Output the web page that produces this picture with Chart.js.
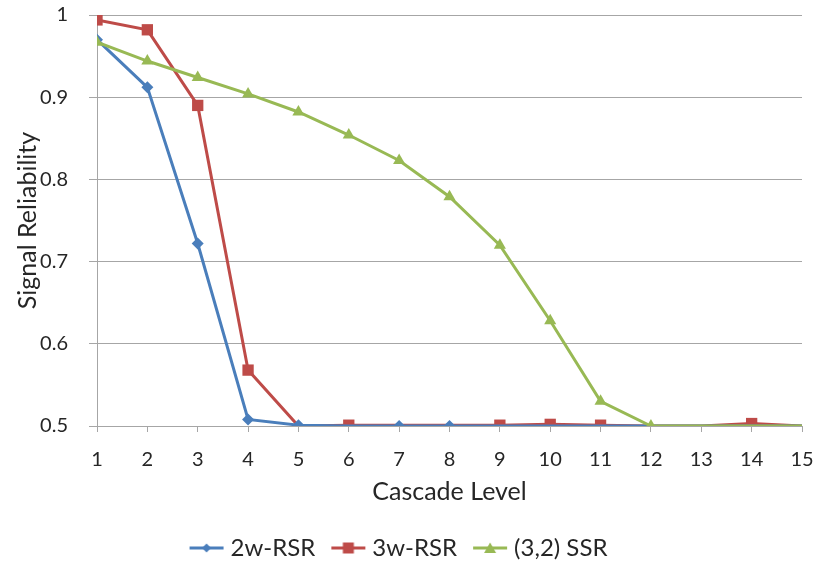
<!DOCTYPE html>
<html>
<head>
<meta charset="utf-8">
<script src="https://cdn.jsdelivr.net/npm/chart.js@4.4.1/dist/chart.umd.min.js"></script>
<style>
  html, body { margin: 0; padding: 0; background: #ffffff; }
  #wrap { width: 817px; height: 572px; position: relative; }
</style>
</head>
<body>
<div id="wrap"><canvas id="c" width="817" height="572"></canvas></div>
<script>
// ---- data ----
const cascadeLevels = [1, 2, 3, 4, 5, 6, 7, 8, 9, 10, 11, 12, 13, 14, 15];
const seriesNames = ['2w-RSR', '3w-RSR', '(3,2) SSR'];
const rsr2w = [0.970, 0.912, 0.722, 0.508, 0.501, 0.500, 0.500, 0.500, 0.500, 0.500, 0.500, 0.500, 0.500, 0.500, 0.500];
const rsr3w = [0.994, 0.982, 0.890, 0.568, 0.500, 0.501, 0.501, 0.501, 0.501, 0.502, 0.501, 0.500, 0.500, 0.503, 0.500];
const ssr32 = [0.967, 0.944, 0.924, 0.904, 0.882, 0.854, 0.823, 0.779, 0.720, 0.628, 0.530, 0.500, 0.500, 0.500, 0.500];
const yTicks = [0.5, 0.6, 0.7, 0.8, 0.9, 1];

// ---- styling ----
const BLUE = '#4a7ebb', RED = '#be4b48', GREEN = '#98b954';
const FONT = 'Lato, "Open Sans", "Liberation Sans", sans-serif';
const TEXT = '#262626';
// points where the reference shows no marker (covered / not drawn)
const noMarker = {
  0: [5, 8, 9, 10, 11, 12, 13, 14],
  1: [4, 6, 7, 11, 12, 14],
  2: [12, 13, 14]
};

function legendIcon(color, style) {
  const cv = document.createElement('canvas');
  cv.width = 36; cv.height = 14;
  const g = cv.getContext('2d');
  g.strokeStyle = color; g.lineWidth = 3;
  g.beginPath(); g.moveTo(1, 7); g.lineTo(35, 7); g.stroke();
  g.fillStyle = color;
  g.beginPath();
  if (style === 'rectRot') { g.moveTo(18, 2.5); g.lineTo(22.5, 7); g.lineTo(18, 11.5); g.lineTo(13.5, 7); }
  else if (style === 'rect') { g.rect(12.5, 1.5, 11, 11); }
  else { g.moveTo(18, 1.5); g.lineTo(24, 12); g.lineTo(12, 12); }
  g.closePath(); g.fill();
  return cv;
}

const specs = [
  { data: rsr2w, color: BLUE, style: 'rectRot', r: 6, order: 1 },
  { data: rsr3w, color: RED, style: 'rect', r: 8, order: 2 },
  { data: ssr32, color: GREEN, style: 'triangle', r: 7, order: 0 }
];

const datasets = specs.map((s, i) => ({
  label: seriesNames[i],
  data: cascadeLevels.map((x, k) => ({ x: x, y: s.data[k] })),
  borderColor: s.color,
  backgroundColor: s.color,
  borderWidth: 3,
  pointStyle: s.style,
  pointRadius: ctx => noMarker[i].includes(ctx.dataIndex) ? 0 : s.r,
  pointHoverRadius: s.r,
  pointBorderWidth: 0,
  tension: 0,
  order: s.order,
  icon: legendIcon(s.color, s.style)
}));

function zeroPad(sc) {
  sc.paddingTop = 0; sc.paddingBottom = 0; sc.paddingLeft = 0; sc.paddingRight = 0;
}

new Chart(document.getElementById('c'), {
  type: 'line',
  data: { datasets: datasets },
  options: {
    responsive: false,
    animation: false,
    layout: { padding: { left: 0, right: 15, top: 15, bottom: 2 } },
    plugins: {
      tooltip: { enabled: false },
      legend: {
        position: 'bottom',
        labels: {
          font: { family: FONT, size: 24 },
          color: TEXT,
          usePointStyle: true,
          pointStyleWidth: 24,
          padding: 21,
          sort: (a, b) => a.datasetIndex - b.datasetIndex,
          generateLabels: chart => chart.data.datasets.map((d, i) => ({
            text: d.label,
            pointStyle: d.icon,
            fillStyle: d.borderColor,
            strokeStyle: d.borderColor,
            lineWidth: 0,
            datasetIndex: i,
            fontColor: TEXT,
            hidden: false
          }))
        }
      }
    },
    scales: {
      x: {
        type: 'linear',
        min: 1, max: 15,
        ticks: { stepSize: 1, font: { family: FONT, size: 20 }, color: TEXT, padding: 16, maxRotation: 0 },
        grid: { drawOnChartArea: false, drawTicks: true, tickLength: 6, color: '#a6a6a6', lineWidth: 1 },
        border: { color: '#a6a6a6', width: 1 },
        title: { display: true, text: 'Cascade Level', font: { family: FONT, size: 25 }, color: TEXT, padding: { top: 0, bottom: 8 } },
        afterFit: sc => { sc.height = 89; zeroPad(sc); }
      },
      y: {
        type: 'linear',
        min: 0.5, max: 1,
        afterBuildTicks: sc => { sc.ticks = yTicks.map(v => ({ value: v })); },
        ticks: {
          font: { family: FONT, size: 20 }, color: TEXT, padding: 21,
          callback: v => String(v)
        },
        grid: { color: '#a6a6a6', lineWidth: 1, tickLength: 8 },
        border: { color: '#a6a6a6', width: 1 },
        title: { display: true, text: 'Signal Reliability', font: { family: FONT, size: 25 }, color: TEXT, padding: { top: 13, bottom: 0 } },
        afterFit: sc => { sc.width = 97; zeroPad(sc); }
      }
    }
  }
});
</script>
</body>
</html>
